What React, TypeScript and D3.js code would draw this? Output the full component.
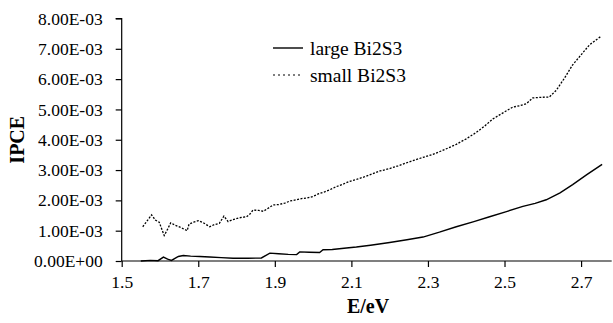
import React, { useRef, useEffect } from "react";
import * as d3 from "d3";

// photon energy (eV) and IPCE readings, two samples
const smallE = [
  1.555, 1.565, 1.578, 1.588, 1.598, 1.611, 1.62, 1.628, 1.64, 1.655, 1.671, 1.676, 1.688, 1.7,
  1.712, 1.73, 1.742, 1.755, 1.767, 1.778, 1.79, 1.805, 1.826, 1.835, 1.843, 1.858, 1.87, 1.885,
  1.896, 1.91, 1.926, 1.94, 1.957, 1.97, 1.985, 2.0, 2.015, 2.03, 2.045, 2.06, 2.075, 2.096,
  2.115, 2.135, 2.156, 2.175, 2.2, 2.222, 2.244, 2.265, 2.29, 2.313, 2.335, 2.355, 2.374, 2.4,
  2.426, 2.448, 2.47, 2.495, 2.522, 2.54, 2.557, 2.574, 2.595, 2.617, 2.635, 2.656, 2.678, 2.7,
  2.722, 2.74, 2.752,
];
const smallIPCE = [
  1.13, 1.3, 1.52, 1.35, 1.28, 0.84, 1.05, 1.26, 1.18, 1.1, 1.0, 1.22, 1.28, 1.33,
  1.27, 1.13, 1.2, 1.24, 1.48, 1.3, 1.36, 1.42, 1.46, 1.55, 1.68, 1.67, 1.64, 1.76,
  1.85, 1.86, 1.91, 1.98, 2.02, 2.06, 2.08, 2.13, 2.22, 2.28, 2.36, 2.45, 2.52, 2.63,
  2.7, 2.78, 2.88, 2.97, 3.05, 3.14, 3.24, 3.33, 3.43, 3.52, 3.63, 3.74, 3.85, 4.03,
  4.24, 4.45, 4.69, 4.88, 5.08, 5.12, 5.19, 5.38, 5.4, 5.41, 5.63, 6.02, 6.47, 6.8,
  7.13, 7.3, 7.41,
].map((v) => v * 1e-3);

const largeE = [
  1.55, 1.575, 1.595, 1.609, 1.62, 1.63, 1.648, 1.661, 1.68, 1.704, 1.73, 1.76, 1.791, 1.83,
  1.865, 1.887, 1.91, 1.935, 1.957, 1.965, 1.99, 2.017, 2.026, 2.05, 2.087, 2.113, 2.15, 2.2,
  2.245, 2.287, 2.33, 2.374, 2.42, 2.461, 2.505, 2.548, 2.58, 2.609, 2.645, 2.678, 2.715, 2.755,
];
const largeIPCE = [
  0.0, 0.02, 0.01, 0.13, 0.06, 0.02, 0.15, 0.18, 0.16, 0.15, 0.13, 0.11, 0.09, 0.09,
  0.1, 0.26, 0.24, 0.22, 0.21, 0.3, 0.29, 0.28, 0.37, 0.38, 0.43, 0.46, 0.52, 0.61,
  0.7, 0.79, 0.95, 1.13, 1.3, 1.46, 1.63, 1.8, 1.9, 2.02, 2.25, 2.52, 2.85, 3.19,
].map((v) => v * 1e-3);

const xTicks = [1.5, 1.7, 1.9, 2.1, 2.3, 2.5, 2.7];
const yTicks = [0, 1e-3, 2e-3, 3e-3, 4e-3, 5e-3, 6e-3, 7e-3, 8e-3];
const seriesNames = ["large Bi2S3", "small Bi2S3"];

const W = 613;
const H = 323;
const margin = { top: 18.5, right: 1.3, bottom: 62, left: 121.7 };
const FONT = "Liberation Serif";

function App() {
  const svgRef = useRef<SVGSVGElement | null>(null);

  useEffect(() => {
    const svg = d3.select(svgRef.current);
    svg.selectAll("*").remove();

    const x = d3.scaleLinear().domain([1.5, 2.78]).range([margin.left, W - margin.right]);
    const y = d3.scaleLinear().domain([0, 8e-3]).range([H - margin.bottom, margin.top]);

    // y axis
    const yAxis = d3
      .axisLeft(y)
      .tickValues(yTicks)
      .tickSize(6)
      .tickPadding(13)
      .tickFormat((d) => {
        const v = d as number;
        if (v === 0) return "0.00E+00";
        return (v * 1000).toFixed(2) + "E-03";
      });
    const gy = svg.append("g").attr("transform", `translate(${margin.left},0)`).call(yAxis);
    gy.select(".domain").attr("d", `M-6,${y(8e-3)}H0V${y(0)}`);

    // x axis
    const xAxis = d3.axisBottom(x).tickValues(xTicks).tickSize(6).tickPadding(9).tickFormat(d3.format(".1f"));
    const gx = svg.append("g").attr("transform", `translate(0,${y(0)})`).call(xAxis);
    gx.select(".domain").attr("d", `M${margin.left},0H${W - margin.right}`);

    svg.selectAll("g").attr("font-family", FONT).attr("font-size", null);
    svg.selectAll(".domain").attr("stroke", "#000").attr("stroke-width", 1.2);
    svg.selectAll(".tick line").attr("stroke", "#000").attr("stroke-width", 1.2);
    svg
      .selectAll(".tick text")
      .attr("font-family", FONT)
      .attr("font-size", 17.5)
      .attr("fill", "#000");

    const line = d3
      .line<[number, number]>()
      .x((d) => x(d[0]))
      .y((d) => y(d[1]));

    const large = largeE.map((e, i) => [e, largeIPCE[i]] as [number, number]);
    const small = smallE.map((e, i) => [e, smallIPCE[i]] as [number, number]);

    svg
      .append("path")
      .datum(large)
      .attr("d", line)
      .attr("fill", "none")
      .attr("stroke", "#000")
      .attr("stroke-width", 1.4);
    svg
      .append("path")
      .datum(small)
      .attr("d", line)
      .attr("fill", "none")
      .attr("stroke", "#000")
      .attr("stroke-width", 1.3)
      .attr("stroke-dasharray", "2,1.5");

    // legend
    const legend = svg.append("g").attr("transform", "translate(273,48)");
    seriesNames.forEach((name, i) => {
      const g = legend.append("g").attr("transform", `translate(0,${i * 27})`);
      g.append("line")
        .attr("x1", 0)
        .attr("x2", 30)
        .attr("y1", 0)
        .attr("y2", 0)
        .attr("stroke", "#000")
        .attr("stroke-width", i === 0 ? 1.4 : 1.2)
        .attr("stroke-dasharray", i === 0 ? null : "2,3");
      g.append("text")
        .attr("x", 37)
        .attr("y", 0)
        .attr("dy", "0.35em")
        .attr("font-family", FONT)
        .attr("font-size", 19.5)
        .text(name);
    });

    // axis titles
    svg
      .append("text")
      .attr("x", 368)
      .attr("y", 313)
      .attr("text-anchor", "middle")
      .attr("font-family", FONT)
      .attr("font-weight", "bold")
      .attr("font-size", 20)
      .text("E/eV");
    svg
      .append("text")
      .attr("transform", `translate(24,${(y(0) + y(8e-3)) / 2}) rotate(-90)`)
      .attr("text-anchor", "middle")
      .attr("font-family", FONT)
      .attr("font-weight", "bold")
      .attr("font-size", 20)
      .text("IPCE");
  }, []);

  return (
    <div style={{ position: "absolute", left: 0, top: 0 }}>
      <svg ref={svgRef} width={W} height={H} style={{ display: "block", background: "#fff" }} />
    </div>
  );
}

export default App;
